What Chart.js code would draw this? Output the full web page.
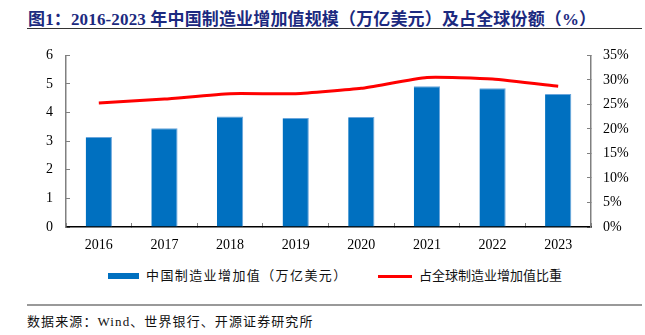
<!DOCTYPE html>
<html>
<head>
<meta charset="utf-8">
<script src="https://cdn.jsdelivr.net/npm/chart.js@4"></script>
<style>
  body { margin: 0; width: 645px; height: 335px; background: #fff; position: relative; overflow: hidden; }
  #title { position: absolute; left: 28px; top: 5px; font: bold 17px "Liberation Serif", "Noto Sans CJK SC", serif; letter-spacing: 0.15px; color: #1c2a80; white-space: nowrap; }
  #titleRule { position: absolute; left: 27px; top: 28px; width: 615px; height: 0; border-top: 1.5px solid #333; }
  #wrap { position: absolute; left: 0; top: 30px; width: 645px; height: 225px; }
  .legend { position: absolute; top: 265px; height: 16px; font: 13px "Noto Sans CJK SC", sans-serif; color: #111; white-space: nowrap; }
  .legend i { display: inline-block; vertical-align: middle; margin-right: 7px; }
  #sourceRule { position: absolute; left: 27px; top: 304px; width: 615px; height: 0; border-top: 2px solid #999; }
  #source { position: absolute; left: 27px; top: 311px; font: 13px "Liberation Serif", "Noto Sans CJK SC", serif; letter-spacing: 1.1px; color: #111; white-space: nowrap; }
</style>
</head>
<body>
<div id="title">图1：2016-2023 年中国制造业增加值规模（万亿美元）及占全球份额（%）</div>
<div id="titleRule"></div>
<div id="wrap"><canvas id="chart" width="645" height="225"></canvas></div>
<div id="legendBar" class="legend" style="left:108px; letter-spacing:1.4px"></div>
<div id="legendLine" class="legend" style="left:378px; letter-spacing:0px"></div>
<div id="sourceRule"></div>
<div id="source">数据来源：Wind、世界银行、开源证券研究所</div>
<script>
// Years on the category axis
const years = [ "2016", "2017", "2018", "2019", "2020", "2021", "2022", "2023" ];
// Manufacturing value added, trillion USD
const valueAdded = [ 3.15, 3.45, 3.86, 3.81, 3.85, 4.92, 4.85, 4.65 ];
// Share of world manufacturing value added, percent
const worldShare = [ 25.3, 26.1, 27.2, 27.2, 28.3, 30.5, 30.2, 28.7 ];

const barLabel = "中国制造业增加值（万亿美元）";
const lineLabel = "占全球制造业增加值比重";

const barColor = "#0070c0";
const lineColor = "#ff0000";
const tickFont = { family: "Liberation Serif", size: 14 };

const canvas = document.getElementById( "chart" );
const chart = new Chart( canvas, {
    type: "bar",
    data: {
        labels: years,
        datasets: [
            {
                type: "line",
                label: lineLabel,
                data: worldShare,
                yAxisID: "yShare",
                borderColor: lineColor,
                backgroundColor: lineColor,
                borderWidth: 3,
                pointRadius: 0,
                tension: 0.15,
                order: 0
            },
            {
                label: barLabel,
                data: valueAdded,
                yAxisID: "yValue",
                backgroundColor: barColor,
                borderColor: "#6aa6dc",
                borderWidth: { top: 1, right: 1, left: 0, bottom: 0 },
                borderSkipped: false,
                categoryPercentage: 1,
                barPercentage: 0.4,
                order: 1
            }
        ]
    },
    options: {
        responsive: false,
        animation: false,
        devicePixelRatio: 1,
        layout: { padding: { top: 5, left: 0, right: 0, bottom: 0 } },
        plugins: {
            legend: { display: false },
            tooltip: { enabled: false }
        },
        scales: {
            x: {
                grid: { drawOnChartArea: false, drawTicks: true, tickLength: -4, color: "#808080", offset: true },
                border: { display: true, color: "#000", width: 1.5 },
                ticks: { color: "#000", font: tickFont, padding: 14 },
                afterFit: function( scale ) { scale.height = 28; }
            },
            yValue: {
                position: "left",
                min: 0,
                max: 6,
                grid: { drawOnChartArea: false, drawTicks: true, tickLength: -4, color: "#808080" },
                border: { display: true, color: "#808080", width: 1.5 },
                ticks: { stepSize: 1, color: "#000", font: tickFont, padding: 17 },
                afterFit: function( scale ) { scale.width = 66; }
            },
            yShare: {
                position: "right",
                min: 0,
                max: 35,
                grid: { drawOnChartArea: false, drawTicks: true, tickLength: -4, color: "#808080" },
                border: { display: true, color: "#808080", width: 1.5 },
                ticks: {
                    stepSize: 5,
                    color: "#000",
                    font: tickFont,
                    padding: 16,
                    callback: function( value ) { return value + "%"; }
                },
                afterFit: function( scale ) { scale.width = 54; }
            }
        }
    }
});

// Legend entries take their colours from the datasets.
const barSet = chart.data.datasets[1];
const lineSet = chart.data.datasets[0];
document.getElementById( "legendBar" ).innerHTML =
    '<i style="width:31px;height:6px;background:' + barSet.backgroundColor + '"></i>' + barSet.label;
document.getElementById( "legendLine" ).innerHTML =
    '<i style="width:34px;height:3px;background:' + lineSet.borderColor + '"></i>' + lineSet.label;
</script>
</body>
</html>
